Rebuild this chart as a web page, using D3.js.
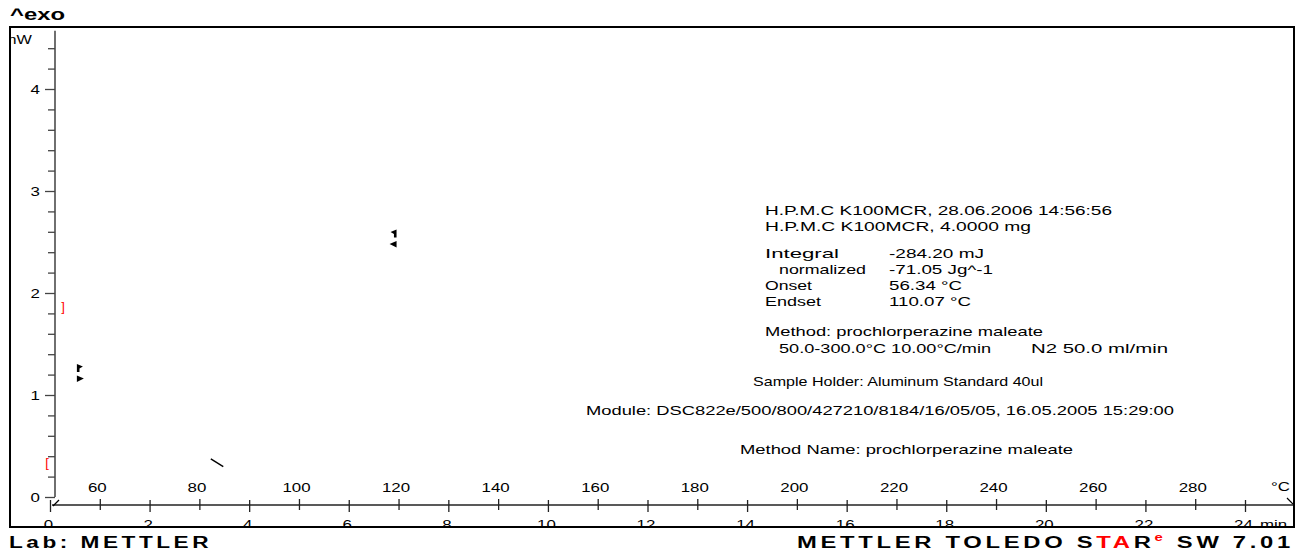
<!DOCTYPE html>
<html>
<head>
<meta charset="utf-8">
<script src="https://cdn.jsdelivr.net/npm/d3@7/dist/d3.min.js"></script>
<style>
  body { margin: 0; background: #fff; }
  text { font-family: "Liberation Sans", Arial, sans-serif; fill: #000; }
</style>
</head>
<body>
<div id="chart"></div>
<script>
// tick labels
var timeTicks = [0, 2, 4, 6, 8, 10, 12, 14, 16, 18, 20, 22, 24];
var tempTicks = [60, 80, 100, 120, 140, 160, 180, 200, 220, 240, 260, 280];
var yMajor = [0, 1, 2, 3, 4];
var yMinor = [0.2, 0.4, 0.6, 0.8, 1.2, 1.4, 1.6, 1.8, 2.2, 2.4, 2.6, 2.8,
              3.2, 3.4, 3.6, 3.8, 4.2, 4.4];

// visible curve pieces (time min, mW)
var baselineSeg = [[3.23, 0.373], [3.48, 0.297]];
// integration limits (time min, mW, glyph)
var limitMarks = [[-0.06, 0.343, "["], [0.26, 1.868, "]"]];
// onset / endset flags (time min, mW, direction)
var flagMarks = [[0.54, 1.215, 1], [6.96, 2.535, -1]];

// annotation texts
var sampleLines = ["H.P.M.C K100MCR, 28.06.2006 14:56:56", "H.P.M.C K100MCR, 4.0000 mg"];
var resultNames = ["Integral", "normalized", "Onset", "Endset"];
var resultValues = ["-284.20 mJ", "-71.05 Jg^-1", "56.34 °C", "110.07 °C"];
var methodLines = ["Method: prochlorperazine maleate", "50.0-300.0°C 10.00°C/min", "N2 50.0 ml/min"];
var holderLine = "Sample Holder: Aluminum Standard 40ul";
var moduleLine = "Module: DSC822e/500/800/427210/8184/16/05/05, 16.05.2005 15:29:00";
var methodName = "Method Name: prochlorperazine maleate";

var W = 1305, H = 553;
var frame = { left: 10, top: 27, right: 1294, bottom: 527 };
var xAxisY = 505;
var sx = 1.3; // horizontal stretch of the glyphs

var svg = d3.select("#chart").append("svg")
  .attr("width", W).attr("height", H);

svg.append("defs").append("clipPath").attr("id", "inner")
  .append("rect")
  .attr("x", frame.left + 1).attr("y", frame.top + 1)
  .attr("width", frame.right - frame.left - 2)
  .attr("height", frame.bottom - frame.top - 2);

var xScale = d3.scaleLinear().domain([0, 24]).range([50, 1245]);
var tScale = d3.scaleLinear().domain([50, 290]).range([50, 1245]);
var yScale = d3.scaleLinear().domain([0, 4]).range([497, 89]);

var inner = svg.append("g").attr("clip-path", "url(#inner)");

// y axis
var yAxisG = inner.append("g").attr("transform", "translate(55,0)");
yAxisG.append("line")
  .attr("y1", yScale(4.57)).attr("y2", yScale(0))
  .attr("stroke", "#222").attr("stroke-width", 1.3);

yAxisG.append("g")
  .call(d3.axisLeft(yScale).tickValues(yMinor).tickSize(7).tickFormat(""))
  .call(function(g) { g.select(".domain").remove(); })
  .selectAll("line").attr("stroke", "#444").attr("stroke-width", 1.3);

var yMaj = yAxisG.append("g")
  .call(d3.axisLeft(yScale).tickValues(yMajor).tickSize(10).tickFormat(d3.format("d")))
  .call(function(g) { g.select(".domain").remove(); });
yMaj.selectAll("line").attr("stroke", "#444").attr("stroke-width", 1.3);
yMaj.selectAll("text")
  .attr("font-size", 13).attr("font-family", null)
  .attr("x", -15 / sx).attr("dy", "0.36em")
  .attr("transform", "scale(" + sx + ",1)");

// time axis (bottom)
var xAxisG = inner.append("g").attr("transform", "translate(0," + xAxisY + ")");
xAxisG.append("line")
  .attr("x1", 52).attr("x2", frame.right)
  .attr("stroke", "#222").attr("stroke-width", 1.3);

var tg = xAxisG.append("g")
  .call(d3.axisBottom(xScale).tickValues(timeTicks).tickSize(0).tickFormat(d3.format("d")))
  .call(function(g) { g.select(".domain").remove(); });
tg.selectAll("line").attr("y1", -5).attr("y2", 7).attr("stroke", "#222").attr("stroke-width", 1.3);
tg.selectAll("text")
  .attr("font-size", 13).attr("font-family", null)
  .attr("y", 24).attr("dy", null)
  .attr("transform", "translate(-2,0) scale(" + sx + ",1)")
  .attr("x", 0);

// temperature axis (top labels)
var tempG = xAxisG.append("g")
  .call(d3.axisTop(tScale).tickValues(tempTicks).tickSize(0).tickFormat(d3.format("d")))
  .call(function(g) { g.select(".domain").remove(); });
tempG.selectAll("line").attr("y1", -6).attr("y2", 5).attr("stroke", "#222").attr("stroke-width", 1.3);
tempG.selectAll("text")
  .attr("font-size", 13).attr("font-family", null)
  .attr("y", -13).attr("dy", null)
  .attr("transform", "translate(-3,0) scale(" + sx + ",1)");

// axis break ticks at both ends
xAxisG.append("path")
  .attr("d", "M53,1 L59,-5")
  .attr("stroke", "#000").attr("stroke-width", 1.2).attr("fill", "none");
xAxisG.append("path")
  .attr("d", "M" + (frame.right - 7) + ",-7 L" + (frame.right - 1) + ",-1")
  .attr("stroke", "#000").attr("stroke-width", 1.2).attr("fill", "none");

// units
inner.append("text").text("°C")
  .attr("font-size", 13)
  .attr("transform", "translate(1271,491) scale(" + sx + ",1)");
inner.append("text").text("min")
  .attr("font-size", 13)
  .attr("transform", "translate(1260,529) scale(" + sx + ",1)");
inner.append("text").text("mW")
  .attr("font-size", 13)
  .attr("transform", "translate(3,44) scale(1.25,1)");

// curve piece
var line = d3.line()
  .x(function(d) { return xScale(d[0]); })
  .y(function(d) { return yScale(d[1]); });
inner.append("path")
  .datum(baselineSeg)
  .attr("d", line)
  .attr("stroke", "#000").attr("stroke-width", 1.4).attr("fill", "none");

// integration limits
inner.selectAll(".limit")
  .data(limitMarks)
  .enter().append("text")
  .attr("class", "limit")
  .attr("x", function(d) { return xScale(d[0]); })
  .attr("y", function(d) { return yScale(d[1]); })
  .attr("dy", "0.35em")
  .attr("text-anchor", "middle")
  .attr("font-size", 13)
  .style("fill", "#ff0000")
  .text(function(d) { return d[2]; });

// onset / endset flags
var flags = inner.selectAll(".flag")
  .data(flagMarks)
  .enter().append("g")
  .attr("class", "flag")
  .attr("transform", function(d) {
    return "translate(" + xScale(d[0]) + "," + yScale(d[1]) + ") scale(" + d[2] + ",1)";
  });
flags.append("path")
  .attr("d", "M0,-9 L6,-6.5 L2.6,-4.5 L2.6,-1 L0,-1 Z")
  .attr("fill", "#000");
flags.append("path")
  .attr("d", "M0,2.5 L7,5.5 L0,9 Z")
  .attr("fill", "#000");

// annotation block
var note = svg.append("g").attr("font-size", 13);
function put(str, x, y, w) {
  note.append("text")
    .attr("x", x).attr("y", y)
    .attr("textLength", w).attr("lengthAdjust", "spacingAndGlyphs")
    .text(str);
}
put(sampleLines[0], 765, 215, 347);
put(sampleLines[1], 765, 231, 266);
var nameX = [765, 779, 765, 765], nameW = [74, 87, 47, 56];
var valW = [95, 104, 73, 82];
resultNames.forEach(function(n, i) {
  put(n, nameX[i], 258 + i * 16, nameW[i]);
  put(resultValues[i], 889, 258 + i * 16, valW[i]);
});
put(methodLines[0], 765, 336, 278);
put(methodLines[1], 779, 353, 212);
put(methodLines[2], 1031, 353, 137);
put(holderLine, 753, 386, 290);
put(moduleLine, 586, 415, 588);
put(methodName, 740, 454, 333);

// frame
svg.append("rect")
  .attr("x", frame.left).attr("y", frame.top)
  .attr("width", frame.right - frame.left)
  .attr("height", frame.bottom - frame.top)
  .attr("fill", "none").attr("stroke", "#000").attr("stroke-width", 2);

// header and footer
svg.append("text").text("^exo")
  .attr("x", 10).attr("y", 20)
  .attr("font-size", 16).attr("font-weight", "bold")
  .attr("textLength", 55).attr("lengthAdjust", "spacingAndGlyphs");

svg.append("text").text("Lab: METTLER")
  .attr("x", 9).attr("y", 548)
  .attr("font-size", 16).attr("font-weight", "bold")
  .attr("letter-spacing", 2.5)
  .attr("textLength", 203).attr("lengthAdjust", "spacingAndGlyphs");

var brand = svg.append("text")
  .attr("x", 797).attr("y", 548)
  .attr("font-size", 16).attr("font-weight", "bold")
  .attr("letter-spacing", 2.5)
  .attr("textLength", 497).attr("lengthAdjust", "spacingAndGlyphs");
brand.append("tspan").text("METTLER TOLEDO S");
brand.append("tspan").text("TA").style("fill", "#ff0000");
brand.append("tspan").text("R");
brand.append("tspan").text("e").style("fill", "#ff0000")
  .attr("font-size", 10).attr("dy", -7);
brand.append("tspan").text(" SW 7.01").attr("dy", 7);
</script>
</body>
</html>
